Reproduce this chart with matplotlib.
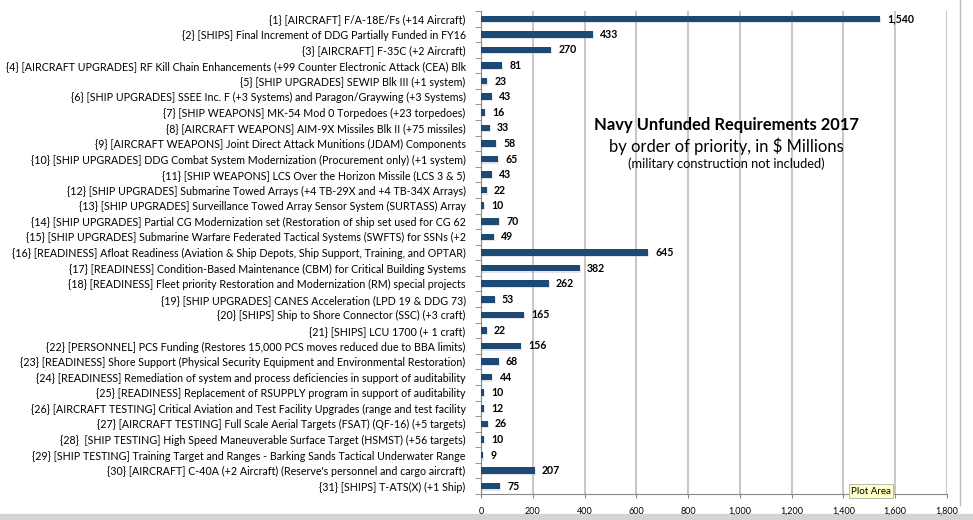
import matplotlib.pyplot as plt
from matplotlib.patches import Rectangle
from matplotlib.lines import Line2D

plt.rcParams['font.family'] = ['Lato', 'DejaVu Sans']

labels = [
    "{1} [AIRCRAFT] F/A-18E/Fs (+14 Aircraft)",
    "{2} [SHIPS] Final Increment of DDG Partially Funded in FY16",
    "{3} [AIRCRAFT] F-35C (+2 Aircraft)",
    "{4} [AIRCRAFT UPGRADES] RF Kill Chain Enhancements (+99 Counter Electronic Attack (CEA) Blk",
    "{5} [SHIP UPGRADES] SEWIP Blk III (+1 system)",
    "{6} [SHIP UPGRADES] SSEE Inc. F (+3 Systems) and Paragon/Graywing (+3 Systems)",
    "{7} [SHIP WEAPONS] MK-54 Mod 0 Torpedoes (+23 torpedoes)",
    "{8} [AIRCRAFT WEAPONS] AIM-9X Missiles Blk II (+75 missiles)",
    "{9} [AIRCRAFT WEAPONS] Joint Direct Attack Munitions (JDAM) Components",
    "{10} [SHIP UPGRADES] DDG Combat System Modernization (Procurement only) (+1 system)",
    "{11} [SHIP WEAPONS] LCS Over the Horizon Missile (LCS 3 & 5)",
    "{12} [SHIP UPGRADES] Submarine Towed Arrays (+4 TB-29X and +4 TB-34X Arrays)",
    "{13} [SHIP UPGRADES] Surveillance Towed Array Sensor System (SURTASS) Array",
    "{14} [SHIP UPGRADES] Partial CG Modernization set (Restoration of ship set used for CG 62",
    "{15} [SHIP UPGRADES] Submarine Warfare Federated Tactical Systems (SWFTS) for SSNs (+2",
    "{16} [READINESS] Afloat Readiness (Aviation & Ship Depots, Ship Support, Training, and OPTAR)",
    "{17} [READINESS] Condition-Based Maintenance (CBM) for Critical Building Systems",
    "{18} [READINESS] Fleet priority Restoration and Modernization (RM) special projects",
    "{19} [SHIP UPGRADES] CANES Acceleration (LPD 19 & DDG 73)",
    "{20} [SHIPS] Ship to Shore Connector (SSC) (+3 craft)",
    "{21} [SHIPS] LCU 1700 (+ 1 craft)",
    "{22} [PERSONNEL] PCS Funding (Restores 15,000 PCS moves reduced due to BBA limits)",
    "{23} [READINESS] Shore Support (Physical Security Equipment and Environmental Restoration)",
    "{24} [READINESS] Remediation of system and process deficiencies in support of auditability",
    "{25} [READINESS] Replacement of RSUPPLY program in support of auditability",
    "{26} [AIRCRAFT TESTING] Critical Aviation and Test Facility Upgrades (range and test facility",
    "{27} [AIRCRAFT TESTING] Full Scale Aerial Targets (FSAT) (QF-16) (+5 targets)",
    "{28}  [SHIP TESTING] High Speed Maneuverable Surface Target (HSMST) (+56 targets)",
    "{29} [SHIP TESTING] Training Target and Ranges - Barking Sands Tactical Underwater Range",
    "{30} [AIRCRAFT] C-40A (+2 Aircraft) (Reserve's personnel and cargo aircraft)",
    "{31} [SHIPS] T-ATS(X) (+1 Ship)",
]
values = [1540, 433, 270, 81, 23, 43, 16, 33, 58, 65, 43, 22, 10, 70, 49,
          645, 382, 262, 53, 165, 22, 156, 68, 44, 10, 12, 26, 10, 9, 207, 75]
xticks = list(range(0, 2000, 200))

fig = plt.figure(figsize=(9.73, 5.20), dpi=100)
ax = fig.add_axes([481 / 973, 1 - 494 / 520, 466 / 973, 483 / 520])

ypos = list(range(len(values)))
# faint shadow under the bars, like the Excel style
ax.barh([y + 0.08 for y in ypos], values, height=0.42, left=4, color='#b4bcc6',
        alpha=0.4, zorder=2)
ax.barh(ypos, values, height=0.42, color='#1d4a74', zorder=3)

for y, v in zip(ypos, values):
    ax.text(v + 28, y, f"{v:,}", va='center', ha='left', fontsize=7.6,
            fontweight='bold', color='black', zorder=4)

ax.set_xlim(0, 1800)
ax.set_ylim(len(values) - 0.5, -0.5)
ax.set_xticks(xticks)
ax.set_xticklabels([f"{t:,}" for t in xticks], fontsize=6.5)
ax.set_yticks(ypos)
ax.set_yticklabels(labels, fontsize=7.65)
ax.set_yticks([y - 0.5 for y in ypos] + [len(values) - 0.5], minor=True)
ax.tick_params(axis='y', which='major', length=0, pad=11)
ax.tick_params(axis='y', which='minor', length=4, color='#888888')
ax.tick_params(axis='x', length=3, color='#888888', pad=6)

ax.grid(axis='x', color='#c8c8c8', linewidth=1.5, zorder=0)
ax.set_axisbelow(True)
for s in ['top', 'right']:
    ax.spines[s].set_visible(False)
ax.spines['left'].set_color('#888888')
ax.spines['bottom'].set_color('#888888')

fig.text(726 / 973, 1 - 125 / 520, "Navy Unfunded Requirements 2017",
         ha='center', va='center', fontsize=11.9, fontweight='bold')
fig.text(726 / 973, 1 - 146 / 520, "by order of priority, in $ Millions",
         ha='center', va='center', fontsize=11.9)
fig.text(726 / 973, 1 - 164 / 520, "(military construction not included)",
         ha='center', va='center', fontsize=9.3)

# window chrome: right border, bottom strip and hover tip
fig.add_artist(Line2D([960 / 973, 960 / 973], [1 - 505 / 520, 1.0],
                      color='#bbbbbb', linewidth=1, transform=fig.transFigure))
fig.add_artist(Rectangle((0, 0), 1, 6 / 520, transform=fig.transFigure,
                         color='#d4d4d4', zorder=0))
fig.text(851 / 973, 1 - 491 / 520, "Plot Area", ha='left', va='center',
         fontsize=7, bbox=dict(boxstyle='square,pad=0.25', fc='#ffffc8',
                               ec='#b0b0a0', lw=0.6))

fig.savefig("out.png", dpi=100)
